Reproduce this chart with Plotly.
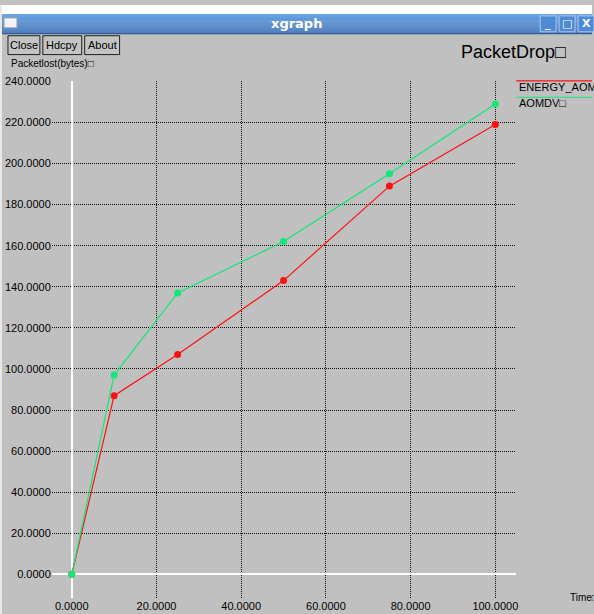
import plotly.graph_objects as go

# ---- data ----
time_x = [0, 10, 25, 50, 75, 100]
energy_aomdv = [0, 87, 107, 143, 189, 219]
aomdv = [0, 97, 137, 162, 195, 229]
series_names = ["ENERGY_AOMDV", "AOMDV\u25a1"]
series_colors = ["#ff1010", "#10e878"]
x_ticks = [0, 20, 40, 60, 80, 100]
y_ticks = [0, 20, 40, 60, 80, 100, 120, 140, 160, 180, 200, 220, 240]
chart_title = "PacketDrop\u25a1"
y_title = "Packetlost(bytes)\u25a1"
x_title = "Time\u25a1"
window_title = "xgraph"
buttons = ["Close", "Hdcpy", "About"]

W, H = 594, 614


def px(x):
    return x / W


def py(y):
    return 1 - y / H


FONT = "Liberation Sans, Arial, sans-serif"
BG = "#c0c0c0"

fig = go.Figure()
for name, ys, col in zip(series_names, [energy_aomdv, aomdv], series_colors):
    fig.add_trace(go.Scatter(
        x=time_x, y=ys, mode="lines+markers", name=name,
        line=dict(color=col, width=1.2),
        marker=dict(color=col, size=7),
        showlegend=False, cliponaxis=False,
    ))

shapes = []
annotations = []

# white strip at top & left
shapes.append(dict(type="rect", xref="paper", yref="paper", x0=0, x1=1, y0=py(9), y1=1,
                   fillcolor="white", line=dict(width=0), layer="below"))
shapes.append(dict(type="rect", xref="paper", yref="paper", x0=0, x1=px(2), y0=0, y1=1,
                   fillcolor="#e8e8e8", line=dict(width=0), layer="below"))

# title bar gradient
top_c = (0x6c, 0xa6, 0xe4)
bot_c = (0x36, 0x70, 0xc0)
n = 20
for i in range(n):
    t = i / (n - 1)
    c = tuple(int(top_c[k] + (bot_c[k] - top_c[k]) * t) for k in range(3))
    shapes.append(dict(type="rect", xref="paper", yref="paper",
                       x0=px(2), x1=1, y0=py(9 + i + 1), y1=py(9 + i),
                       fillcolor="rgb(%d,%d,%d)" % c, line=dict(width=0), layer="below"))
shapes.append(dict(type="line", xref="paper", yref="paper", x0=px(2), x1=1,
                   y0=py(29), y1=py(29), line=dict(color="#2a4f80", width=1)))
# window icon
shapes.append(dict(type="rect", xref="paper", yref="paper", x0=px(4), x1=px(17),
                   y0=py(23), y1=py(13), fillcolor="#f4f4f4",
                   line=dict(color="#9aa4b0", width=1)))
annotations.append(dict(text="<b>%s</b>" % window_title, xref="paper", yref="paper",
                        x=px(298), y=py(19), xanchor="center", yanchor="middle",
                        showarrow=False, font=dict(family="DejaVu Sans, sans-serif", size=13, color="white")))
# window buttons
for (x0, x1, glyph) in [(542, 558, "_"), (561, 577, "\u25a1"), (580, 596, "X")]:
    shapes.append(dict(type="rect", xref="paper", yref="paper", x0=px(x0), x1=px(x1),
                       y0=py(27), y1=py(11), fillcolor="#4f8ad4",
                       line=dict(color="#a8c8f0", width=1)))
    annotations.append(dict(text="<b>%s</b>" % glyph, xref="paper", yref="paper",
                            x=px((x0 + x1) / 2), y=py(19), xanchor="center", yanchor="middle",
                            showarrow=False, font=dict(family="DejaVu Sans, sans-serif", size=11, color="white")))

# buttons
for label, (x0, x1) in zip(buttons, [(8, 40), (43, 82), (85, 120)]):
    shapes.append(dict(type="rect", xref="paper", yref="paper", x0=px(x0), x1=px(x1),
                       y0=py(50), y1=py(31), fillcolor="#c4c4c4",
                       line=dict(color="#202020", width=1)))
    annotations.append(dict(text=label, xref="paper", yref="paper",
                            x=px((x0 + x1) / 2), y=py(40.5), xanchor="center", yanchor="middle",
                            showarrow=False, font=dict(family=FONT, size=11, color="black")))

# titles
annotations.append(dict(text=chart_title, xref="paper", yref="paper", x=px(461), y=py(47),
                        xanchor="left", yanchor="middle", showarrow=False,
                        font=dict(family=FONT, size=18, color="black")))
annotations.append(dict(text=y_title, xref="paper", yref="paper", x=px(9), y=py(59),
                        xanchor="left", yanchor="middle", showarrow=False,
                        font=dict(family=FONT, size=10, color="black")))
annotations.append(dict(text=x_title, xref="paper", yref="paper", x=px(570), y=py(597),
                        xanchor="left", yanchor="middle", showarrow=False,
                        font=dict(family=FONT, size=10, color="black")))

# legend
for i, (name, col) in enumerate(zip(series_names, series_colors)):
    ly = 76.5 + i * 16.5
    shapes.append(dict(type="line", xref="paper", yref="paper", x0=px(518), x1=1,
                       y0=py(ly), y1=py(ly), line=dict(color=col, width=1.2)))
    annotations.append(dict(text=name, xref="paper", yref="paper", x=px(519), y=py(ly + 6),
                            xanchor="left", yanchor="middle", showarrow=False,
                            font=dict(family=FONT, size=11, color="black")))

# axes mapping: x px 72 -> 0, 497 -> 100; y px 574 -> 0, 77 -> 240
xs = (497 - 72) / 100.0
ys_ = (574 - 77) / 240.0
x_lo = (52 - 72) / xs
x_hi = (518 - 72) / xs
y_lo = -(598 - 574) / ys_
y_hi = 240 + 0.4

grid = dict(showgrid=True, gridcolor="#101010", gridwidth=1, griddash="1px,1px",
            zeroline=True, zerolinecolor="white", zerolinewidth=1.5,
            showline=False, ticks="", tickformat=".4f",
            tickfont=dict(family=FONT, size=11, color="black"))

fig.update_layout(
    autosize=True,
    margin=dict(l=0, r=0, t=0, b=0),
    paper_bgcolor=BG, plot_bgcolor=BG,
    xaxis=dict(domain=[px(52), px(518)], range=[x_lo, x_hi], tickvals=x_ticks, **grid),
    yaxis=dict(domain=[py(598), py(77) + 0.4 * ys_ / H], range=[y_lo, y_hi],
               tickvals=y_ticks, ticklabelstandoff=0, **grid),
    shapes=shapes, annotations=annotations,
    showlegend=False,
)

fig.write_html(
    "out.html",
    config={"displayModeBar": False, "responsive": True},
    default_width="100vw",
    default_height="100vh",
    post_script="document.body.style.margin='0';document.body.style.overflow='hidden';",
)
